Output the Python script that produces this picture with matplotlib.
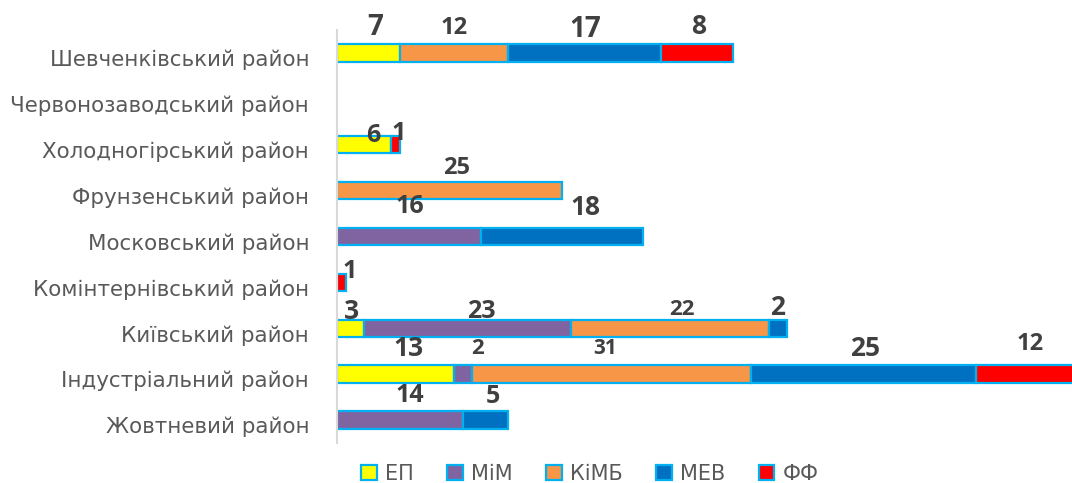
import matplotlib
matplotlib.use("Agg")
import matplotlib.pyplot as plt
from matplotlib.patches import Patch
from matplotlib.transforms import ScaledTranslation

# --- data ---
districts = [
    "Шевченківський район",
    "Червонозаводський район",
    "Холодногірський район",
    "Фрунзенський район",
    "Московський район",
    "Комінтернівський район",
    "Київський район",
    "Індустріальний район",
    "Жовтневий район",
]
series_names = ["ЕП", "МіМ", "КіМБ", "МЕВ", "ФФ"]
ep = [7, 0, 6, 0, 0, 0, 3, 13, 0]
mim = [0, 0, 0, 0, 16, 0, 23, 2, 14]
kimb = [12, 0, 0, 25, 0, 0, 22, 31, 0]
mev = [17, 0, 0, 0, 18, 0, 2, 25, 5]
ff = [8, 0, 1, 0, 0, 1, 0, 12, 0]

# --- style ---
colors = ["#FFFF00", "#8064A2", "#F79646", "#0070C0", "#FF0000"]
edge = "#00B0F0"
label_color = "#404040"
cat_color = "#595959"

# per label tweaks (row, series) -> (dx px, dy px, size pt)
label_style = {
    (0, 0): (7, -25, 20), (0, 2): (0, -25, 17),
    (0, 3): (1, -23, 20), (0, 4): (2, -26, 19),
    (2, 0): (9, -9, 18), (2, 4): (3, -11, 18),
    (3, 2): (7, -23, 17),
    (4, 1): (1, -30, 18), (4, 3): (23, -29, 19),
    (5, 4): (8, -11, 18),
    (6, 0): (1, -17, 19), (6, 1): (14, -17, 18),
    (6, 2): (12, -19, 16), (6, 3): (0, -21, 19),
    (7, 0): (13, -26, 19), (7, 1): (15, -26, 16),
    (7, 2): (-6, -26, 15), (7, 3): (2, -26, 19),
    (7, 4): (0, -30, 17),
    (8, 1): (10, -25, 18), (8, 3): (7, -24, 18),
}

fig = plt.figure(figsize=(10.72, 4.83), dpi=100)
ax = fig.add_axes([337 / 1072, 40 / 483, 747 / 1072, 413 / 483])

values = [ep, mim, kimb, mev, ff]
rows = list(range(len(districts)))
left = [0] * len(districts)
for s, (vals, col) in enumerate(zip(values, colors)):
    for i in rows:
        v = vals[i]
        if v == 0:
            continue
        ax.barh(i, v, left=left[i], height=0.38, color=col,
                edgecolor=edge, linewidth=1.6, zorder=2)
        dx, dy, size = label_style.get((i, s), (0, -24, 17))
        ax.annotate(str(v), (left[i] + v / 2, i), xytext=(dx, -dy),
                    textcoords="offset pixels", ha="center", va="center",
                    fontsize=size, fontweight="bold", color=label_color,
                    family=["Open Sans", "DejaVu Sans"], annotation_clip=False)
        left[i] += v

ax.set_xlim(0, 83)
ax.set_ylim(len(districts) - 0.5, -0.5)
ax.set_yticks(rows)
ax.set_yticklabels(districts, fontsize=15.4, color=cat_color, family=["DejaVu Sans"])
ax.tick_params(axis="y", length=0, pad=20)
ax.set_xticks([])
for lab in ax.get_yticklabels():
    lab.set_transform(lab.get_transform() + ScaledTranslation(0, -5 / 100, fig.dpi_scale_trans))
for sp in ["top", "right", "bottom"]:
    ax.spines[sp].set_visible(False)
ax.spines["left"].set_color("#D9D9D9")
ax.spines["left"].set_linewidth(1.5)

handles = [Patch(facecolor=c, edgecolor=edge, linewidth=1.6) for c in colors]
fig.legend(handles, series_names, loc="center", bbox_to_anchor=(590 / 1072, 1 - 474 / 483),
           ncol=5, frameon=False, handlelength=0.75, handleheight=0.75, handletextpad=0.4,
           columnspacing=1.6, borderpad=0, prop={"family": ["DejaVu Sans"], "size": 15},
           labelcolor=cat_color)

fig.savefig("out.png", dpi=100)
